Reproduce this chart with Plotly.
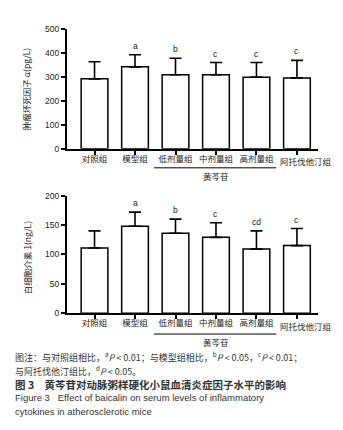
import plotly.graph_objects as go

categories = ["对照组", "模型组", "低剂量组", "中剂量组", "高剂量组", "阿托伐他汀组"]
tnf_mean = [291, 341, 308, 308, 298, 295]
tnf_sd = [71, 50, 69, 51, 61, 73]
tnf_sig = ["", "a", "b", "c", "c", "c"]
il1_mean = [111, 148, 136, 129, 109, 115]
il1_sd = [29, 24, 24, 25, 31, 29]
il1_sig = ["", "a", "b", "c", "cd", "c"]
group_label = "黄芩苷"
ytitle_top = "肿瘤坏死因子 α(pg/L)"
ytitle_bot = "白细胞介素 1(ng/L)"

W, H = 343, 430
def py(p):
    return 1 - p / H
def px(p):
    return p / W

CJK = "Noto Sans CJK SC"
LAT = "Liberation Sans, Arial"
TXT = "#222"

# last category label is drawn separately, nudged right as in the reference
ticktext = categories[:-1] + [""]

fig = go.Figure()
for i, (m, s, ax) in enumerate([(tnf_mean, tnf_sd, ""), (il1_mean, il1_sd, "2")]):
    fig.add_trace(go.Bar(
        x=categories, y=m, xaxis="x" + ax, yaxis="y" + ax,
        width=0.66,
        marker=dict(color="white", line=dict(color="black", width=1.5)),
        error_y=dict(type="data", array=s, arrayminus=[0] * len(s), symmetric=False,
                     color="black", thickness=1.6, width=6),
        showlegend=False,
    ))

xcommon = dict(type="category", range=[-0.68, 5.52], showline=True, linecolor="black",
               linewidth=2, ticks="outside", ticklen=4, tickwidth=1.5, tickcolor="black",
               showgrid=False, zeroline=False, tickangle=0, ticklabelstandoff=-3,
               tickvals=categories, ticktext=ticktext,
               tickfont=dict(family=CJK, size=8.5, color=TXT))
ycommon = dict(showline=True, linecolor="black", linewidth=2, ticks="outside", ticklen=4,
               tickwidth=1.5, tickcolor="black", showgrid=False, zeroline=False,
               tickfont=dict(family=LAT, size=8.5, color=TXT))

fig.update_layout(
    width=W, height=H, margin=dict(l=0, r=0, t=0, b=0),
    paper_bgcolor="white", plot_bgcolor="white",
    xaxis=dict(domain=[px(59), px(310)], anchor="y", **xcommon),
    yaxis=dict(domain=[py(139), py(16)], range=[0, 500], dtick=100, anchor="x", **ycommon),
    xaxis2=dict(domain=[px(59), px(310)], anchor="y2", **xcommon),
    yaxis2=dict(domain=[py(307.3), py(187)], range=[0, 200], dtick=50, anchor="x2", **ycommon),
)

ann = []
for cats, m, s, sig, xr, yr in [(categories, tnf_mean, tnf_sd, tnf_sig, "x", "y"),
                                (categories, il1_mean, il1_sd, il1_sig, "x2", "y2")]:
    for c, mm, ss, g in zip(cats, m, s, sig):
        if g:
            ann.append(dict(x=c, y=mm + ss, xref=xr, yref=yr, text=g, showarrow=False,
                            yanchor="bottom", yshift=2,
                            font=dict(family=LAT, size=8.5, color=TXT)))

# last category label, group bracket and group label
for xr, ytick, yline, ylab in [("x", 152, 158.5, 166.5), ("x2", 320.5, 328.7, 336.5)]:
    ann.append(dict(x=categories[-1], y=py(ytick), xref=xr, yref="paper", text=categories[-1],
                    showarrow=False, xanchor="center", yanchor="middle", xshift=9.5,
                    font=dict(family=CJK, size=8.5, color=TXT)))
    fig.add_shape(type="line", xref=xr, yref="paper", x0=1.47, x1=4.49,
                  y0=py(yline), y1=py(yline), line=dict(color="black", width=1))
    ann.append(dict(x=3, y=py(ylab), xref=xr, yref="paper", text=group_label, showarrow=False,
                    xanchor="center", yanchor="middle", font=dict(family=CJK, size=8.5, color=TXT)))

# y titles
ann.append(dict(x=px(18), y=py(78), xref="paper", yref="paper", text=ytitle_top, textangle=-90,
                xanchor="center", yanchor="middle",
                showarrow=False, font=dict(family=CJK, size=8.5, color=TXT)))
ann.append(dict(x=px(19), y=py(251), xref="paper", yref="paper", text=ytitle_bot, textangle=-90,
                xanchor="center", yanchor="middle",
                showarrow=False, font=dict(family=CJK, size=8.5, color=TXT)))

captions = [
    ("图注：与对照组相比，<sup>a</sup><i>P</i> &lt; 0.01；与模型组相比，<sup>b</sup><i>P</i> &lt; 0.05，<sup>c</sup><i>P</i> &lt; 0.01；", 352, 9, CJK),
    ("与阿托伐他汀组比，<sup>d</sup><i>P</i> &lt; 0.05。", 367, 9, CJK),
    ("<b>图 3　黄芩苷对动脉粥样硬化小鼠血清炎症因子水平的影响</b>", 380.5, 10.5, CJK),
    ("Figure 3   Effect of baicalin on serum levels of inflammatory", 394, 9.5, LAT),
    ("cytokines in atherosclerotic mice", 408, 9.5, LAT),
]
for t, y, sz, fam in captions:
    ann.append(dict(x=px(5), y=py(y), xref="paper", yref="paper", text=t, showarrow=False,
                    xanchor="left", yanchor="middle", font=dict(family=fam, size=sz, color="#333")))

fig.update_layout(annotations=ann)
fig.write_html("out.html")
